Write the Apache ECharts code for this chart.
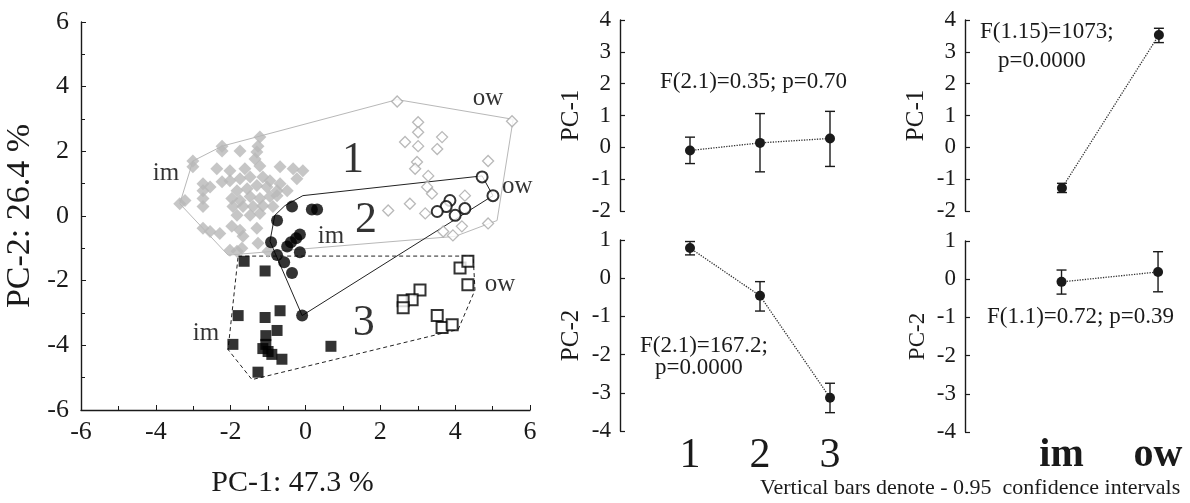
<!DOCTYPE html>
<html><head><meta charset="utf-8">
<script src="https://cdn.jsdelivr.net/npm/echarts@6/dist/echarts.min.js"></script>
<style>html,body{margin:0;padding:0;background:#fff}#c{width:1190px;height:503px}</style>
</head><body><div id="c"></div>
<script>
const FONT = "'Liberation Serif','Times New Roman',serif";

// ---- PCA scatter: [PC-1, PC-2] ----
const g1im = [[-1.22,2.44],[-1.27,2.16],[-1.30,1.98],[-1.35,1.76],[-2.23,2.01],[-1.75,2.01],[-3.01,1.52],[-2.37,1.46],[-2.02,1.40],[-1.62,1.46],[-1.22,1.55],[-0.68,1.52],[-0.33,1.46],[-0.07,1.40],[-2.74,1.00],[-2.23,1.06],[-2.02,1.09],[-1.75,1.15],[-1.48,1.21],[-1.14,1.21],[-0.95,1.09],[-0.68,1.00],[-0.23,1.15],[-2.74,0.78],[-2.55,0.90],[-1.83,0.78],[-1.56,0.84],[-1.30,0.94],[-1.03,0.90],[-0.76,0.78],[-0.49,0.78],[-3.22,0.48],[-2.74,0.54],[-1.97,0.54],[-1.75,0.48],[-1.48,0.60],[-1.22,0.54],[-0.95,0.60],[-0.76,0.63],[-2.74,0.29],[-1.94,0.29],[-1.67,0.29],[-1.40,0.29],[-1.14,0.32],[-0.87,0.29],[-1.83,0.02],[-1.48,0.02],[-1.22,0.08],[-2.74,-0.38],[-2.55,-0.48],[-2.29,-0.54],[-1.97,-0.32],[-1.75,-0.44],[-1.30,-0.38],[-1.67,-0.63],[-1.27,-0.84],[-1.70,-1.00],[-1.83,-1.09],[-1.00,-1.09],[-2.02,-1.06],[-3.36,0.38],[-3.01,1.70],[-2.23,2.16]];
const g1ow = [[2.45,3.54],[5.52,2.93],[3.01,2.90],[3.01,2.59],[2.66,2.29],[3.01,2.16],[3.65,2.44],[3.52,2.07],[2.98,1.67],[2.93,1.46],[4.88,1.70],[3.28,1.24],[3.25,0.90],[3.38,0.69],[2.79,0.38],[2.21,0.17],[4.26,0.63],[3.20,0.08],[3.68,-0.48],[3.94,-0.60],[4.18,-0.32],[4.88,-0.23]];
const g2im = [[-0.36,0.29],[0.17,0.20],[0.31,0.20],[-0.76,-0.14],[-0.15,-0.57],[-0.25,-0.69],[-0.39,-0.81],[-0.49,-0.94],[-0.92,-0.81],[-0.15,-1.12],[-0.76,-1.21],[-0.57,-1.43],[-0.36,-1.76],[-0.09,-3.08]];
const g2ow = [[4.72,1.21],[5.01,0.63],[3.86,0.48],[3.76,0.29],[3.52,0.14],[4.00,0.02],[4.26,0.23]];
const g3im = [[-1.64,-1.40],[-1.08,-1.70],[-1.80,-3.08],[-0.68,-2.93],[-1.08,-3.14],[-0.76,-3.54],[-1.06,-3.70],[-1.94,-3.97],[-1.06,-3.97],[-1.00,-4.19],[-0.90,-4.28],[-0.63,-4.43],[-1.27,-4.83],[0.68,-4.03],[-1.14,-4.10]];
const g3ow = [[4.13,-1.61],[4.34,-1.40],[4.34,-2.13],[3.06,-2.29],[2.85,-2.59],[2.61,-2.62],[2.61,-2.84],[3.52,-3.08],[3.65,-3.45],[3.92,-3.36]];
const hull1 = [[-3.36,0.38],[-3.01,1.70],[-2.23,2.16],[2.45,3.60],[5.55,2.99],[5.12,-0.14],[4.00,-0.63],[-2.07,-1.21]];
const hull2 = [[-0.95,-0.78],[-0.82,0.02],[-0.55,0.32],[-0.07,0.63],[4.72,1.24],[5.01,0.63],[-0.09,-3.08]];
const hull3 = [[-1.80,-1.24],[4.48,-1.24],[4.53,-2.29],[4.08,-3.51],[-1.43,-5.06],[-2.07,-4.13]];
const groupNumLabels = [['1',1.27,1.73],['2',1.62,-0.14],['3',1.56,-3.33]];
const habitatLabels = [['im',-3.73,1.33],['im',0.68,-0.63],['im',-2.66,-3.63],['ow',4.88,3.63],['ow',5.66,0.90],['ow',5.20,-2.13]];

// ---- Means & 0.95 CI by group (1,2,3) ----
const groupCats = [1, 2, 3];
const grpPC1Mean = [-0.10, 0.14, 0.28];
const grpPC1Low  = [-0.51, -0.77, -0.60];
const grpPC1High = [0.32, 1.06, 1.13];
const grpPC2Mean = [0.79, -0.46, -3.13];
const grpPC2Low  = [0.61, -0.86, -3.52];
const grpPC2High = [0.96, -0.09, -2.75];

// ---- Means & 0.95 CI by habitat (im, ow) ----
const envCats = ['im', 'ow'];
const envPC1Mean = [-1.28, 3.53];
const envPC1Low  = [-1.42, 3.29];
const envPC1High = [-1.13, 3.74];
const envPC2Mean = [-0.07, 0.19];
const envPC2Low  = [-0.39, -0.33];
const envPC2High = [0.24, 0.72];

const statTexts = [
  ['F(2.1)=0.35; p=0.70', 660, 83],
  ['F(2.1)=167.2;', 640, 347],
  ['p=0.0000', 655, 369],
  ['F(1.15)=1073;', 980, 33],
  ['p=0.0000', 998, 62],
  ['F(1.1)=0.72; p=0.39', 987, 318]
];
const footnote = 'Vertical bars denote - 0.95  confidence intervals';

const INK = '#1a1a1a';
const chart = echarts.init(document.getElementById('c'), null, {renderer:'canvas'});

function errRender(params, api) {
  const x = api.value(0), lo = api.value(1), hi = api.value(2);
  const a = api.coord([x, lo]), b = api.coord([x, hi]);
  const w = 5;
  const st = {stroke: INK, lineWidth: 1.4, fill: null};
  return {type: 'group', children: [
    {type: 'line', shape: {x1: a[0], y1: a[1], x2: b[0], y2: b[1]}, style: st},
    {type: 'line', shape: {x1: a[0]-w, y1: a[1], x2: a[0]+w, y2: a[1]}, style: st},
    {type: 'line', shape: {x1: b[0]-w, y1: b[1], x2: b[0]+w, y2: b[1]}, style: st}
  ]};
}

function panelY(idx, min, max, name, nameSize, gap) {
  return {
    gridIndex: idx, type: 'value', min: min, max: max, interval: 1,
    axisLine: {show: true, lineStyle: {color: INK, width: 1.4}},
    axisTick: {show: true, inside: true, length: 5, lineStyle: {color: INK, width: 1.2}},
    splitLine: {show: false},
    axisLabel: {fontFamily: FONT, fontSize: 23, color: INK, margin: 9},
    name: name, nameLocation: 'middle', nameGap: gap,
    nameTextStyle: {fontFamily: FONT, fontSize: nameSize, color: INK}
  };
}
function panelX(idx, max, showLabels, fmt, labelStyle) {
  return {
    gridIndex: idx, type: 'value', min: 0, max: max, interval: 1,
    axisLine: {show: false}, axisTick: {show: false}, splitLine: {show: false},
    axisLabel: Object.assign({show: showLabels, formatter: fmt, fontFamily: FONT, color: INK, margin: 4}, labelStyle || {})
  };
}
const grpFmt = v => (Number.isInteger(v) && v >= 1 && v <= 3) ? String(v) : '';
const envFmt = v => (Number.isInteger(v) && v >= 1 && v <= envCats.length) ? envCats[v-1] : '';

function meanLine(xi, xs, ys) {
  return {type: 'line', xAxisIndex: xi, yAxisIndex: xi, data: xs.map((x, i) => [x, ys[i]]),
    symbol: 'circle', symbolSize: 10, itemStyle: {color: INK},
    lineStyle: {type: 'dotted', width: 1.3, color: '#333'}, z: 5, silent: true, animation: false};
}
function errSeries(xi, xs, lo, hi) {
  return {type: 'custom', xAxisIndex: xi, yAxisIndex: xi, renderItem: errRender,
    data: xs.map((x, i) => [x, lo[i], hi[i]]), encode: {x: 0, y: [1, 2]}, z: 4, silent: true, animation: false};
}
function hullSeries(pts, style) {
  return {type: 'line', xAxisIndex: 0, yAxisIndex: 0, data: pts.concat([pts[0]]), showSymbol: false, symbol: 'none',
    lineStyle: style, silent: true, animation: false, z: 2};
}
function scat(data, symbol, size, itemStyle, z) {
  return {type: 'scatter', xAxisIndex: 0, yAxisIndex: 0, data: data, symbol: symbol, symbolSize: size,
    itemStyle: itemStyle, silent: true, animation: false, z: z};
}
function textSeries(list, size) {
  return {type: 'scatter', xAxisIndex: 0, yAxisIndex: 0, symbolSize: 0, silent: true, animation: false, z: 6,
    data: list.map(l => ({name: l[0], value: [l[1], l[2]]})),
    label: {show: true, position: 'inside', formatter: p => p.name, fontFamily: FONT, fontSize: size, color: '#000'}};
}

const grpX = groupCats;
const envX = envCats.map((c, i) => i + 1);

const option = {
  backgroundColor: '#fff',
  animation: false,
  grid: [
    {left: 81, top: 22, width: 449, height: 391},
    {left: 620, top: 20, width: 245, height: 191},
    {left: 620, top: 240, width: 245, height: 191},
    {left: 965, top: 20, width: 223, height: 191},
    {left: 965, top: 241, width: 223, height: 191}
  ],
  xAxis: [
    {gridIndex: 0, type: 'value', min: -6, max: 6, interval: 2,
     axisLine: {onZero: false, lineStyle: {color: INK, width: 1.4}},
     axisTick: {inside: true, length: 5, lineStyle: {color: INK}},
     minorTick: {show: true, splitNumber: 2, length: 4, lineStyle: {color: INK}},
     splitLine: {show: false}, minorSplitLine: {show: false},
     axisLabel: {fontFamily: FONT, fontSize: 26, color: INK, margin: 9},
     name: 'PC-1: 47.3 %', nameLocation: 'middle', nameGap: 58,
     nameTextStyle: {fontFamily: FONT, fontSize: 30, color: INK, padding: [0, 26, 0, 0]}},
    panelX(1, 3.5, false, grpFmt),
    panelX(2, 3.5, true, grpFmt, {fontSize: 42}),
    panelX(3, 2.3, false, envFmt),
    panelX(4, 2.3, true, envFmt, {fontSize: 40, fontWeight: 'bold'})
  ],
  yAxis: [
    {gridIndex: 0, type: 'value', min: -6, max: 6, interval: 2,
     axisLine: {onZero: false, lineStyle: {color: INK, width: 1.4}},
     axisTick: {inside: true, length: 5, lineStyle: {color: INK}},
     minorTick: {show: true, splitNumber: 2, length: 4, lineStyle: {color: INK}},
     splitLine: {show: false}, minorSplitLine: {show: false},
     axisLabel: {fontFamily: FONT, fontSize: 26, color: INK, margin: 12},
     name: 'PC-2: 26.4 %', nameLocation: 'middle', nameGap: 44,
     nameTextStyle: {fontFamily: FONT, fontSize: 34, color: INK}},
    panelY(1, -2, 4, 'PC-1', 25, 36),
    panelY(2, -4, 1, 'PC-2', 25, 36),
    panelY(3, -2, 4, 'PC-1', 25, 36),
    panelY(4, -4, 1, 'PC-2', 23, 36)
  ],
  series: [
    hullSeries(hull1, {color: '#b8b8b8', width: 1}),
    hullSeries(hull3, {color: '#222', width: 1, type: [4, 3]}),
    scat(g1im, 'diamond', 13, {color: '#b8b8b8'}, 3),
    scat(g1ow, 'diamond', 11, {color: '#fff', borderColor: '#a8a8a8', borderWidth: 1.3}, 3),
    hullSeries(hull2, {color: '#222', width: 1}),
    scat(g2im, 'circle', 12, {color: '#000'}, 4),
    scat(g2ow, 'circle', 11, {color: '#fff', borderColor: '#000', borderWidth: 2}, 4),
    scat(g3im, 'rect', 11, {color: '#000'}, 4),
    scat(g3ow, 'rect', 11, {color: '#fff', borderColor: '#000', borderWidth: 2}, 4),
    textSeries(groupNumLabels, 44),
    textSeries(habitatLabels, 25),
    errSeries(1, grpX, grpPC1Low, grpPC1High), meanLine(1, grpX, grpPC1Mean),
    errSeries(2, grpX, grpPC2Low, grpPC2High), meanLine(2, grpX, grpPC2Mean),
    errSeries(3, envX, envPC1Low, envPC1High), meanLine(3, envX, envPC1Mean),
    errSeries(4, envX, envPC2Low, envPC2High), meanLine(4, envX, envPC2Mean)
  ],
  graphic: statTexts.map(t => ({type: 'text', left: t[1], top: t[2] - 13,
      style: {text: t[0], font: '23px ' + FONT, fill: INK}}))
    .concat([{type: 'text', left: 760, top: 477, style: {text: footnote, font: '22px ' + FONT, fill: INK}}])
};
chart.setOption(option);
</script>
</body></html>
